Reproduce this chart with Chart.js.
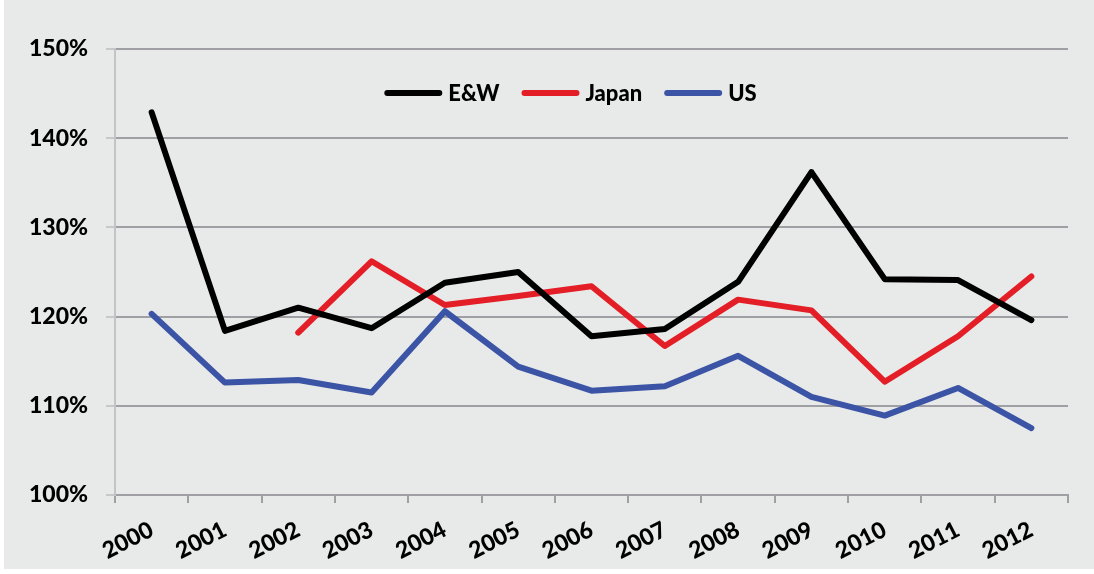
<!DOCTYPE html>
<html>
<head>
<meta charset="utf-8">
<script src="https://cdn.jsdelivr.net/npm/chart.js@4/dist/chart.umd.min.js"></script>
<style>
  html, body { margin: 0; padding: 0; background: #ffffff; }
  #wrap { position: relative; width: 1094px; height: 574px; }
</style>
</head>
<body>
<div id="wrap"><canvas id="c" width="1094" height="574"></canvas></div>
<script>
const years = ['2000','2001','2002','2003','2004','2005','2006','2007','2008','2009','2010','2011','2012'];
const ewValues = [142.9, 118.4, 121.0, 118.7, 123.8, 125.0, 117.8, 118.6, 123.9, 136.2, 124.2, 124.1, 119.6];
const japanValues = [null, null, 118.2, 126.2, 121.3, 122.3, 123.4, 116.7, 121.9, 120.7, 112.7, 117.8, 124.5];
const usValues = [120.3, 112.6, 112.9, 111.5, 120.6, 114.4, 111.7, 112.2, 115.6, 111.0, 108.9, 112.0, 107.5];
const yTicks = [100, 110, 120, 130, 140, 150];

const bgPlugin = {
  id: 'bg',
  beforeDraw(chart) {
    const ctx = chart.ctx;
    ctx.save();
    ctx.fillStyle = '#e8e9e9';
    ctx.fillRect(4, 0, chart.width - 4, chart.height - 5);
    ctx.restore();
  }
};

// Legend drawn inside the plot area, one row, line samples
const inlineLegend = {
  id: 'inlineLegend',
  afterDatasetsDraw(chart) {
    const ctx = chart.ctx;
    const area = chart.chartArea;
    const lineLen = 58, gapText = 6, gapItem = 22;
    ctx.save();
    ctx.font = '900 22px Lato';
    const items = chart.data.datasets.map(ds => ({ label: ds.label, color: ds.borderColor, w: ctx.measureText(ds.label).width }));
    const total = items.reduce((s, it) => s + lineLen + gapText + it.w, 0) + gapItem * (items.length - 1);
    let x = (area.left + area.right) / 2 - 21 - total / 2;
    const y = area.top + 44;
    ctx.textBaseline = 'middle';
    ctx.textAlign = 'left';
    items.forEach(it => {
      ctx.strokeStyle = it.color;
      ctx.lineWidth = 6;
      ctx.lineCap = 'round';
      ctx.beginPath();
      ctx.moveTo(x + 3, y);
      ctx.lineTo(x + lineLen - 3, y);
      ctx.stroke();
      ctx.fillStyle = '#000000';
      ctx.fillText(it.label, x + lineLen + gapText, y + 1);
      x += lineLen + gapText + it.w + gapItem;
    });
    ctx.restore();
  }
};

const common = { fill: false, borderWidth: 6, pointRadius: 0, pointHoverRadius: 0, tension: 0, borderCapStyle: 'round', borderJoinStyle: 'round', spanGaps: false };

new Chart(document.getElementById('c'), {
  type: 'line',
  data: {
    labels: years,
    datasets: [
      Object.assign({ label: 'E&W', data: ewValues, borderColor: '#000000', backgroundColor: '#000000' }, common),
      Object.assign({ label: 'Japan', data: japanValues, borderColor: '#e31e26', backgroundColor: '#e31e26' }, common),
      Object.assign({ label: 'US', data: usValues, borderColor: '#3b54a5', backgroundColor: '#3b54a5' }, common)
    ]
  },
  options: {
    responsive: false,
    animation: false,
    layout: { padding: { top: 49, right: 26, left: 0, bottom: 0 } },
    plugins: {
      tooltip: { enabled: false },
      legend: { display: false }
    },
    scales: {
      x: {
        type: 'category',
        offset: true,
        grid: { display: true, drawOnChartArea: false, drawTicks: true, tickLength: 8, color: '#a0a0a4', lineWidth: 2, offset: true },
        border: { display: true, color: '#a0a0a4', width: 2 },
        ticks: {
          color: '#000000',
          font: { family: 'Lato', weight: '900', size: 23 },
          minRotation: 27, maxRotation: 27, padding: 13, autoSkip: false
        },
        afterFit(scale) { scale.height = 79; }
      },
      y: {
        min: 100, max: 150,
        afterBuildTicks(scale) { scale.ticks = yTicks.map(v => ({ value: v })); },
        grid: { color: '#a0a0a4', lineWidth: 2, tickLength: 9, tickColor: '#c8c8c8', tickWidth: 2 },
        border: { display: true, color: '#c4c4c4', width: 2 },
        ticks: {
          color: '#000000',
          padding: 18,
          font: { family: 'Lato', weight: '900', size: 23 },
          callback: v => v + '%'
        },
        afterFit(scale) { scale.width = 115; }
      }
    }
  },
  plugins: [bgPlugin, inlineLegend]
});
</script>
</body>
</html>
